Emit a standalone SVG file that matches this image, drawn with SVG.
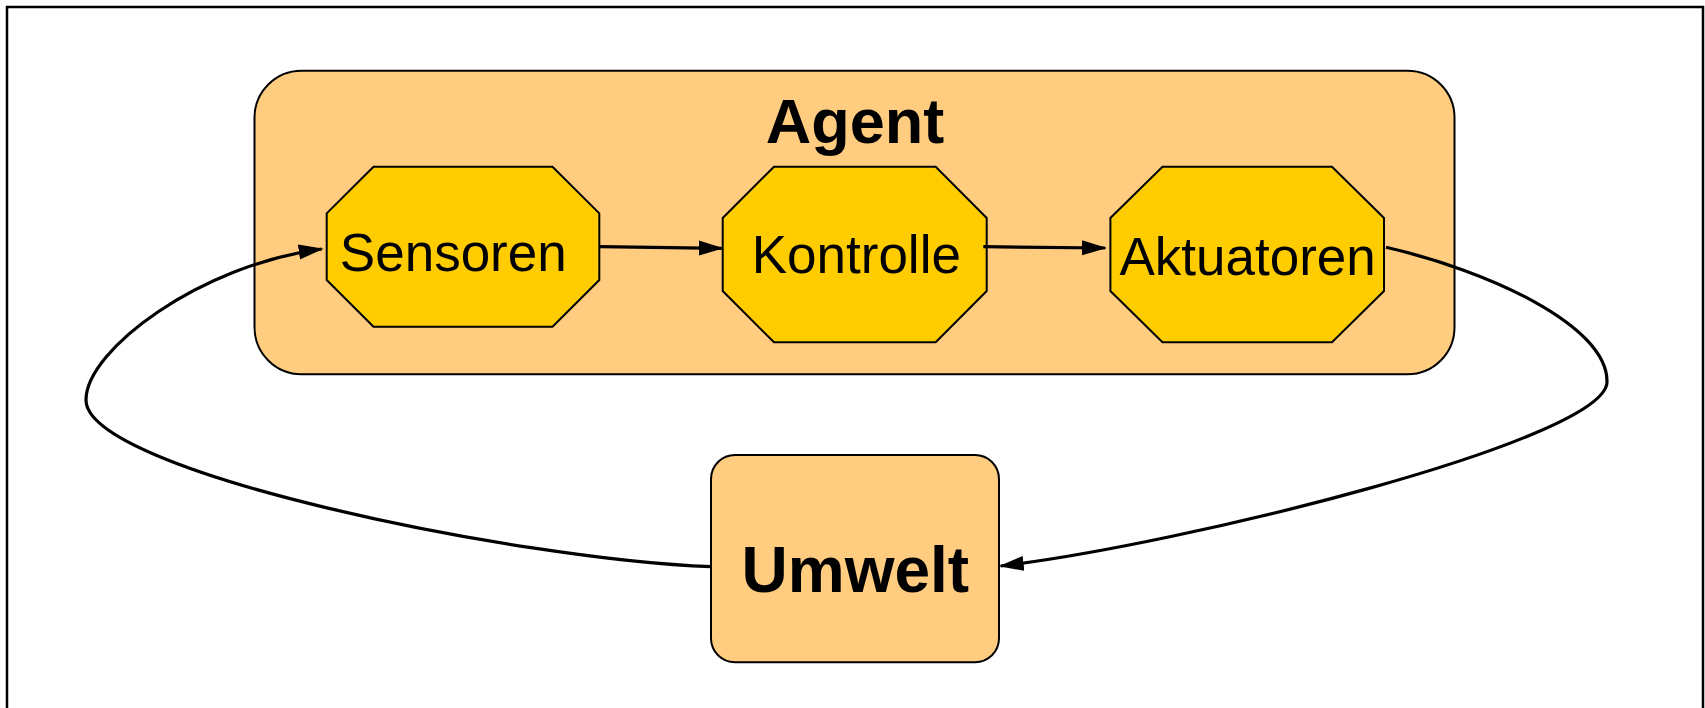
<svg xmlns="http://www.w3.org/2000/svg" width="1705" height="708" viewBox="0 0 1705 708">
  <style>
    .frame { fill: #ffffff; stroke: #000000; stroke-width: 2.5; }
    .box { fill: #ffcc80; stroke: #000000; stroke-width: 2; }
    .oct { fill: #ffcc00; stroke: #000000; stroke-width: 2; }
    .label { font-family: "Liberation Sans", Arial, sans-serif; font-size: 53px; fill: #000000; text-anchor: middle; }
    .title { font-family: "Liberation Sans", Arial, sans-serif; font-weight: bold; fill: #000000; text-anchor: middle; }
    .edge { fill: none; stroke: #000000; stroke-width: 3.2; }
  </style>
  <defs>
    <marker id="arrow" markerUnits="userSpaceOnUse" markerWidth="26" markerHeight="16" refX="23" refY="7.5" orient="auto">
      <path d="M0,0 L25,7.5 L0,15 z" fill="#000000"/>
    </marker>
  </defs>

  <!-- outer frame -->
  <rect class="frame" x="7" y="7" width="1696" height="720"/>

  <!-- Agent container -->
  <g id="agent">
    <rect class="box" x="254.5" y="70.7" width="1200" height="303.6" rx="47" ry="47"/>
    <text class="title" x="855" y="142.7" font-size="63">Agent</text>
  </g>

  <g id="sensoren">
    <polygon class="oct" points="373.5,166.7 552.5,166.7 599.3,213.3 599.3,280 552.5,326.7 373.5,326.7 326.7,280 326.7,213.3"/>
    <text class="label" x="453.3" y="270.7">Sensoren</text>
  </g>

  <g id="kontrolle">
    <polygon class="oct" points="774,166.7 935.7,166.7 986.7,218 986.7,291 935.7,342.3 774,342.3 722.7,291 722.7,218"/>
    <text class="label" x="856.3" y="273.3">Kontrolle</text>
  </g>

  <g id="aktuatoren">
    <polygon class="oct" points="1162.5,166.7 1332,166.7 1384,218 1384,291 1332,342.3 1162.5,342.3 1110.4,291 1110.4,218"/>
    <text class="label" x="1247.6" y="275">Aktuatoren</text>
  </g>

  <g id="umwelt">
    <rect class="box" x="711" y="455" width="288" height="207.3" rx="24" ry="24"/>
    <text class="title" x="855.3" y="591.7" font-size="64">Umwelt</text>
  </g>

  <!-- connectors -->
  <g id="connectors">
    <path class="edge" d="M600,246.7 L721.7,248.3" marker-end="url(#arrow)"/>
    <path class="edge" d="M983.3,246.7 L1105,248" marker-end="url(#arrow)"/>
    <path class="edge" d="M1386,247.3 C1486,270 1608,325 1607,382 C1606,440 1180,545 1000.7,566" marker-end="url(#arrow)"/>
    <path class="edge" d="M711,566.7 C520,560 86,472 86,400 C86,350 200,265 321.7,249" marker-end="url(#arrow)"/>
  </g>
</svg>
